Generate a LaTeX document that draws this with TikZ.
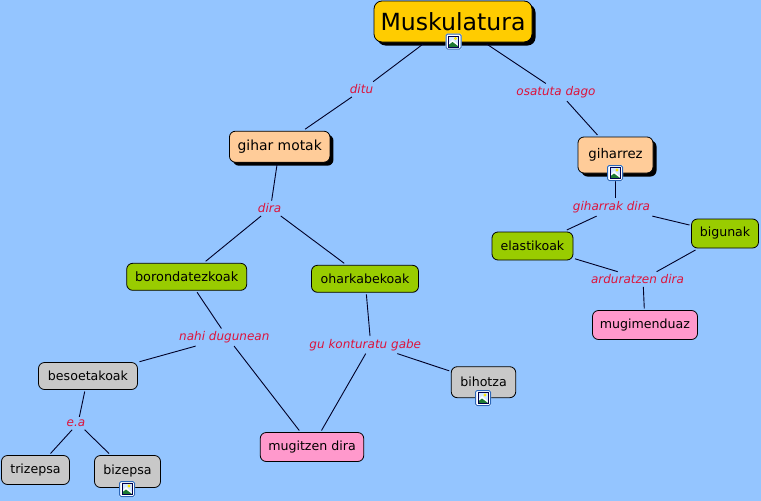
\documentclass[tikz,border=0pt]{standalone}
\usepackage{fontspec}
\usetikzlibrary{shadows}
\setmainfont{DejaVu Sans}
\definecolor{bgblue}{HTML}{94C5FF}
\definecolor{rootc}{HTML}{FFCC00}
\definecolor{peach}{HTML}{FFCC99}
\definecolor{greenc}{HTML}{99CC00}
\definecolor{pinkc}{HTML}{FF99CC}
\definecolor{greyc}{HTML}{C8C8C8}
\definecolor{redlab}{HTML}{DC143C}
\definecolor{icblue}{HTML}{2A66B8}
\definecolor{icgreen}{HTML}{1E7A32}
\tikzset{
  concept/.style={draw=black,line width=0.8pt,rounded corners=6pt,inner sep=0pt,outer sep=2pt,anchor=center,text=black,font=\fontsize{12.6}{15}\selectfont},
  shadowed/.style={concept,drop shadow={shadow xshift=3.5pt,shadow yshift=-3.5pt,fill=black,opacity=1}},
  linklab/.style={inner sep=1pt,outer sep=2pt,yshift=-1.3pt,text=redlab,font=\fontsize{12}{14}\selectfont\itshape},
  conn/.style={draw=black!85!blue,line width=0.9pt},
}
\newcommand{\imgicon}[1]{%
  \begin{scope}[shift={(#1)}]
    \fill[white,rounded corners=1.5pt] (-8,-8) rectangle (8,8);
    \draw[icblue,line width=1pt,rounded corners=1.5pt] (-7.5,-7.5) rectangle (7.5,7.5);
    \fill[bgblue!40!white] (-5,-5.5) rectangle (5,5.5);
    \fill[yellow!90!orange] (2,-3) circle (1.7);
    \fill[white] (-5,2) -- (-1,-2) -- (5,3.5) -- (5,5.5) -- (-5,5.5) -- cycle;
    \fill[icgreen] (-5,5.5) -- (-5,3.5) -- (-1,0.5) -- (5,5) -- (5,5.5) -- cycle;
    \draw[black!70!blue,line width=.5pt] (-5,-5.5) rectangle (5,5.5);
  \end{scope}}
\newcommand{\padr}[2]{#2\hspace*{#1pt}}
\begin{document}
\begin{tikzpicture}[x=1pt,y=-1pt]
\useasboundingbox (0,0) rectangle (761,501);
\fill[bgblue] (0,0) rectangle (761,501);
% concepts
\node[shadowed,fill=rootc,font=\fontsize{23.6}{28}\selectfont,minimum width=158pt,minimum height=41pt,rounded corners=8pt] (root) at (453,21.5) {Muskulatura};
\node[shadowed,fill=peach,font=\fontsize{13.9}{16}\selectfont,minimum width=100.5pt,minimum height=31pt] (gihar) at (279.7,146.7) {gihar motak};
\node[shadowed,fill=peach,font=\fontsize{13.3}{16}\selectfont,minimum width=75pt,minimum height=36pt] (giharrez) at (615.5,155) {\raisebox{3pt}{giharrez}};
\node[concept,fill=greenc,minimum width=81pt,minimum height=28pt] (elast) at (532.5,246) {\raisebox{-0.8pt}{elastikoak}};
\node[concept,fill=greenc,minimum width=67pt,minimum height=29pt] (bigun) at (725,233.5) {\raisebox{-1pt}{bigunak}};
\node[concept,fill=pinkc,minimum width=105pt,minimum height=29pt] (mugim) at (645,325) {mugimenduaz};
\node[concept,fill=greenc,font=\fontsize{12.9}{15}\selectfont,minimum width=120pt,minimum height=27pt] (boron) at (186.7,276.8) {borondatezkoak};
\node[concept,fill=greenc,minimum width=107pt,minimum height=27pt] (ohar) at (365,278.8) {oharkabekoak};
\node[concept,fill=greyc,minimum width=99pt,minimum height=27pt] (beso) at (88,376) {\raisebox{-0.8pt}{besoetakoak}};
\node[concept,fill=greyc,minimum width=68pt,minimum height=29pt] (tri) at (35.5,470) {trizepsa};
\node[concept,fill=greyc,minimum width=66pt,minimum height=32pt] (bize) at (127.5,471.5) {\raisebox{2.5pt}{bizepsa}};
\node[concept,fill=greyc,minimum width=64.5pt,minimum height=31pt] (biho) at (483.5,382.2) {bihotza};
\node[concept,fill=pinkc,minimum width=103.5pt,minimum height=29pt] (mugit) at (312,447) {mugitzen dira};
% links
\node[linklab] (l1) at (363,88) {\padr{3}{ditu}};
\node[linklab] (l2) at (559,91) {\padr{6}{osatuta dago}};
\node[linklab] (l3) at (270.5,207) {\padr{2}{dira}};
\node[linklab] (l4) at (615.5,206) {\padr{8}{giharrak dira}};
\node[linklab] (l5) at (643,278) {\padr{11}{arduratzen dira}};
\node[linklab] (l6) at (227.3,336) {\padr{6}{nahi dugunean}};
\node[linklab] (l7) at (370.8,343.5) {\padr{11}{gu konturatu gabe}};
\node[linklab] (l8) at (78,422) {\padr{4}{e.a}};
% connectors
\draw[conn] (root) -- (l1);
\draw[conn] (l1) -- (gihar);
\draw[conn] (root) -- (l2);
\draw[conn] (l2) -- (giharrez);
\draw[conn] (gihar) -- (l3);
\draw[conn] (l3) -- (boron);
\draw[conn] (l3) -- (ohar);
\draw[conn] (giharrez) -- (l4);
\draw[conn] (l4) -- (elast);
\draw[conn] (l4) -- (bigun);
\draw[conn] (elast) -- (l5);
\draw[conn] (bigun) -- (l5);
\draw[conn] (l5) -- (mugim);
\draw[conn] (boron) -- (l6);
\draw[conn] (l6) -- (beso);
\draw[conn] (l6) -- (mugit);
\draw[conn] (ohar) -- (l7);
\draw[conn] (l7) -- (mugit);
\draw[conn] (l7) -- (biho);
\draw[conn] (beso) -- (l8);
\draw[conn] (l8) -- (tri);
\draw[conn] (l8) -- (bize);
% image badges
\imgicon{453.5,41.5}
\imgicon{615,173}
\imgicon{483,398}
\imgicon{127,489}
\end{tikzpicture}
\end{document}
